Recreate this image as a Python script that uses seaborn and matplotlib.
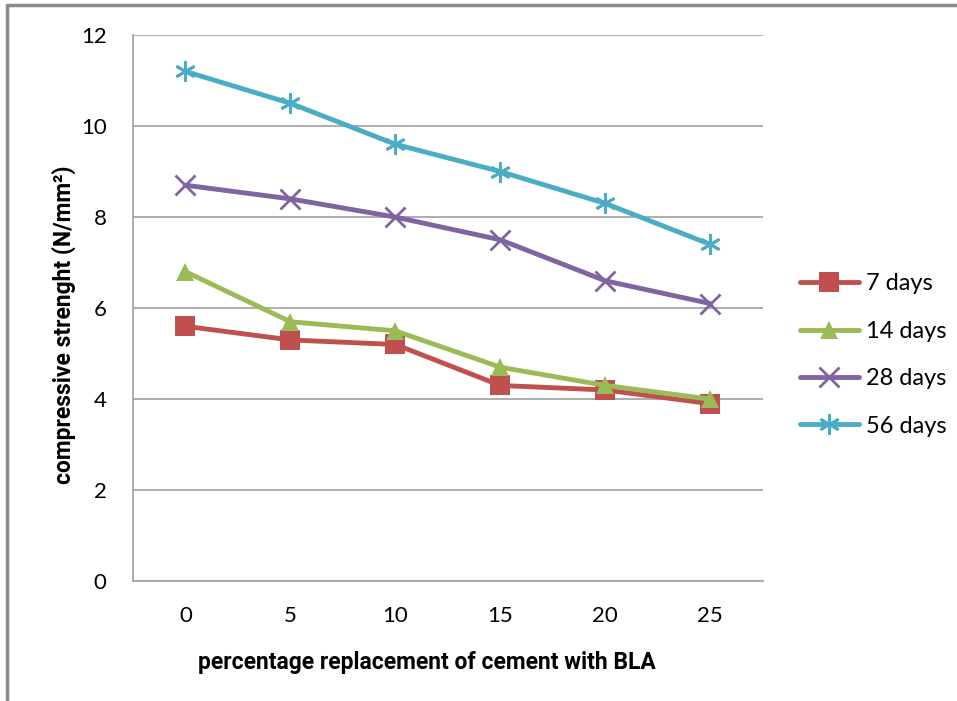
import pandas as pd
import matplotlib.pyplot as plt
import seaborn as sns
from matplotlib.lines import Line2D

# Data
replacement = ['0', '5', '10', '15', '20', '25']
days_7 = [5.6, 5.3, 5.2, 4.3, 4.2, 3.9]
days_14 = [6.8, 5.7, 5.5, 4.7, 4.3, 4.0]
days_28 = [8.7, 8.4, 8.0, 7.5, 6.6, 6.1]
days_56 = [11.2, 10.5, 9.6, 9.0, 8.3, 7.4]
series_names = ['7 days', '14 days', '28 days', '56 days']

# Long-form table for seaborn
rows = []
for name, vals in zip(series_names, [days_7, days_14, days_28, days_56]):
    for x, v in zip(replacement, vals):
        rows.append({'replacement': x, 'strength': v, 'age': name})
df = pd.DataFrame(rows)

sns.set_style('white')
plt.rcParams['font.family'] = ['Lato', 'DejaVu Sans']
plt.rcParams['text.color'] = 'black'
plt.rcParams['axes.labelcolor'] = 'black'
plt.rcParams['xtick.color'] = 'black'
plt.rcParams['ytick.color'] = 'black'

colors = ['#C0504D', '#9BBB59', '#8064A2', '#4BACC6']
markers = ['s', '^', 'x', (6, 2, 0)]
sizes = [14, 13, 14, 15]

fig = plt.figure(figsize=(9.57, 7.01), dpi=100)
ax = fig.add_axes([0.139, 0.171, 0.658, 0.779])

for name, c, m, s in zip(series_names, colors, markers, sizes):
    sns.lineplot(data=df[df['age'] == name], x='replacement', y='strength',
                 color=c, marker=m, markersize=s, markeredgewidth=2 if m in ('x', (6, 2, 0)) else 0,
                 markeredgecolor=c, linewidth=3.5, ax=ax, label=name, sort=False)

ax.set_xlim(-0.5, 5.5)
ax.set_ylim(0, 12)
ax.set_yticks(range(0, 13, 2))
ax.grid(axis='y', color='#A0A0A0', linewidth=1.2)
ax.set_axisbelow(True)
for side in ['top', 'right']:
    ax.spines[side].set_visible(False)
for side in ['left', 'bottom']:
    ax.spines[side].set_color('#A0A0A0')
    ax.spines[side].set_linewidth(1.2)
ax.tick_params(axis='y', length=5, color='#A0A0A0', labelsize=16, pad=14)
ax.tick_params(axis='x', length=0, labelsize=16, pad=18)

label_font = {'family': ['Roboto', 'DejaVu Sans'], 'size': 16.5, 'weight': 'bold'}
ax.set_xlabel('percentage replacement of cement with BLA', fontdict=label_font)
ax.set_ylabel('compressive strenght (N/mm²)', fontdict=label_font)
ax.xaxis.set_label_coords(0.467, -0.128)
ax.yaxis.set_label_coords(-0.09, 0.47)

ax.legend(loc='center left', bbox_to_anchor=(1.025, 0.414), frameon=False,
          handlelength=2.5, labelspacing=1.12, handletextpad=0.3,
          prop={'family': ['Lato', 'DejaVu Sans'], 'size': 17})

# outer chart border (top and left visible)
fig.add_artist(Line2D([0.007, 0.007], [0.0, 0.993], color='#8A8A8A', linewidth=2.5, transform=fig.transFigure))
fig.add_artist(Line2D([0.007, 1.0], [0.993, 0.993], color='#8A8A8A', linewidth=2.5, transform=fig.transFigure))

fig.savefig('out.png', dpi=100)
